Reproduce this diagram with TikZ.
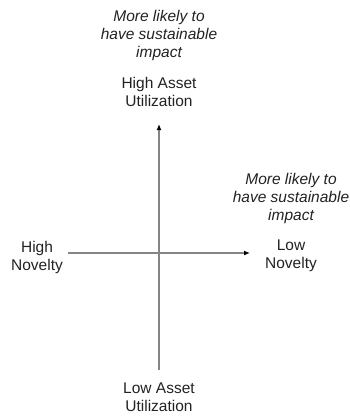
\documentclass[tikz,border=0pt]{standalone}
\usepackage{fontspec}
\setmainfont{Liberation Sans}
\usetikzlibrary{arrows.meta,positioning}
\definecolor{axisgray}{HTML}{858585}
\definecolor{inkgray}{HTML}{222222}
\tikzset{>=Latex,
  every node/.style={font=\fontsize{15.5}{18}\selectfont,text=inkgray,align=center,inner sep=0pt},
  axisline/.style={draw=axisgray,line width=1.3pt,-{Latex[length=6pt,width=5pt,color=black]}},
  note/.style={font=\fontsize{15.5}{18}\selectfont\itshape}}
\begin{document}
\begin{tikzpicture}[x=1pt,y=-1pt]
\path[use as bounding box] (0,0) rectangle (349,416);
% pole labels
\node (highutil) at (159,92) {High Asset\\Utilization};
\node (lowutil) at (159,397) {Low Asset\\Utilization};
\node (highnov) at (37,257) {High\\Novelty};
\node (lownov) at (291,256) {Low\\Novelty};
% notes
\node[note] (topnote) at (159,35) {More likely to\\have sustainable\\impact};
\node[note] (rightnote) at (291,198) {More likely to\\have sustainable\\impact};
% axes
\coordinate (vbot) at (159,370);
\coordinate (vtop) at (159,124);
\coordinate (hleft) at (68,253);
\coordinate (hright) at (250,253);
\draw[axisline] (vbot) -- (vtop);
\draw[axisline] (hleft) -- (hright);
\end{tikzpicture}
\end{document}
